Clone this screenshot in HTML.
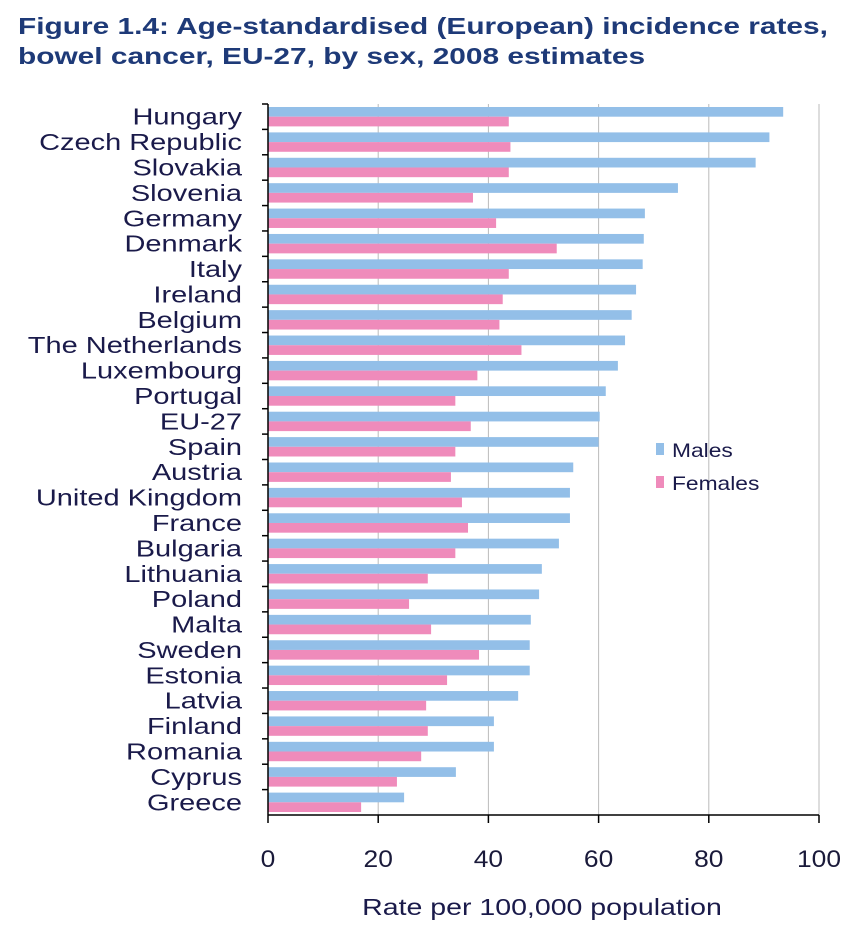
<!DOCTYPE html>
<html><head><meta charset="utf-8">
<style>
body{margin:0;background:#fff;font-family:"Liberation Sans",sans-serif;}
#wrap{position:relative;width:860px;height:950px;overflow:hidden;}
.title{position:absolute;left:18px;top:11px;font-size:23.5px;font-weight:bold;color:#1e3a78;line-height:30px;transform:scaleX(1.27);transform-origin:0 0;white-space:nowrap;}
</style></head><body>
<div id="wrap">
<svg id="chart" width="860" height="950" style="position:absolute;left:0;top:0"></svg>
<div class="title">Figure 1.4: Age-standardised (European) incidence rates,<br>bowel cancer, EU-27, by sex, 2008 estimates</div>
</div>
<script>
const categories=["Hungary","Czech Republic","Slovakia","Slovenia","Germany","Denmark","Italy","Ireland","Belgium","The Netherlands","Luxembourg","Portugal","EU-27","Spain","Austria","United Kingdom","France","Bulgaria","Lithuania","Poland","Malta","Sweden","Estonia","Latvia","Finland","Romania","Cyprus","Greece"];
const males=[93.5,91,88.5,74.4,68.4,68.2,68,66.8,66,64.8,63.5,61.3,60.2,60,55.4,54.8,54.8,52.8,49.7,49.2,47.7,47.5,47.5,45.4,41,41,34.1,24.7];
const females=[43.7,44,43.7,37.2,41.4,52.4,43.7,42.6,42,46,38,34,36.8,34,33.2,35.2,36.3,34,29,25.6,29.6,38.3,32.5,28.7,29,27.8,23.4,16.9];
const ticks=[0,20,40,60,80,100];
const seriesNames=["Males","Females"];

const NS="http://www.w3.org/2000/svg";
const svg=document.getElementById('chart');
const X0=268,X1=819,Y0=104,Y1=815;
const xs=v=>X0+(v/100)*(X1-X0);
const band=(Y1-Y0)/categories.length;
const ys=i=>Y0+i*band;
function mk(t,a){const e=document.createElementNS(NS,t);for(const k in a)e.setAttribute(k,a[k]);svg.appendChild(e);return e;}
function txt(x,y,sx,a){const e=mk('text',Object.assign({x:0,y:0,transform:'translate('+x+','+y+') scale('+sx+',1)'},a));return e;}

ticks.forEach(t=>{
  if(t>0){const g=mk('line',{x1:xs(t),x2:xs(t),y1:Y0,y2:Y1,stroke:'#bbbbbb','stroke-width':1});
  
  }
  const tk=mk('line',{x1:xs(t),x2:xs(t),y1:Y1,y2:Y1+8,stroke:'#000','stroke-width':1.5});
  
  
  const lb=txt(xs(t),Y1+52,1.1,{'text-anchor':'middle','font-size':24,fill:'#1a1a3a'});
  lb.textContent=t;
  
  
});

categories.forEach((c,i)=>{
  const top=ys(i);
  const bh=(band-6)/2;
  const m=mk('rect',{x:X0,y:top+3,width:xs(males[i])-X0,height:bh,fill:'#93bfe8'});
  
  
  const f=mk('rect',{x:X0,y:top+3+bh,width:xs(females[i])-X0,height:bh,fill:'#ef8bbb'});
  
  
  const tk=mk('line',{x1:X0-6,x2:X0,y1:top,y2:top,stroke:'#000','stroke-width':1.5});
  
  
  const lb=txt(242,top+band/2+8,1.26,{'text-anchor':'end','font-size':23,fill:'#1a1a4a'});
  lb.textContent=c;
  
  
});

const ax=mk('line',{x1:X0,x2:X0,y1:Y0,y2:Y1,stroke:'#000','stroke-width':1.5});


const bx=mk('line',{x1:X0,x2:X1,y1:Y1,y2:Y1,stroke:'#000','stroke-width':1.5});



const xt=txt(542,915,1.24,{'text-anchor':'middle','font-size':23,fill:'#1a1a4a'});
xt.textContent='Rate per 100,000 population';



const legCol=['#93bfe8','#ef8bbb'];
seriesNames.forEach((s,k)=>{
  const y=450+k*33;
  const r=mk('rect',{x:656,y:y-7,width:8,height:12,fill:legCol[k]});
  
  
  const t=txt(672,y+7,1.2,{'font-size':19,fill:'#1a1a4a'});
  t.textContent=s;
  
  
});
</script>
</body></html>
